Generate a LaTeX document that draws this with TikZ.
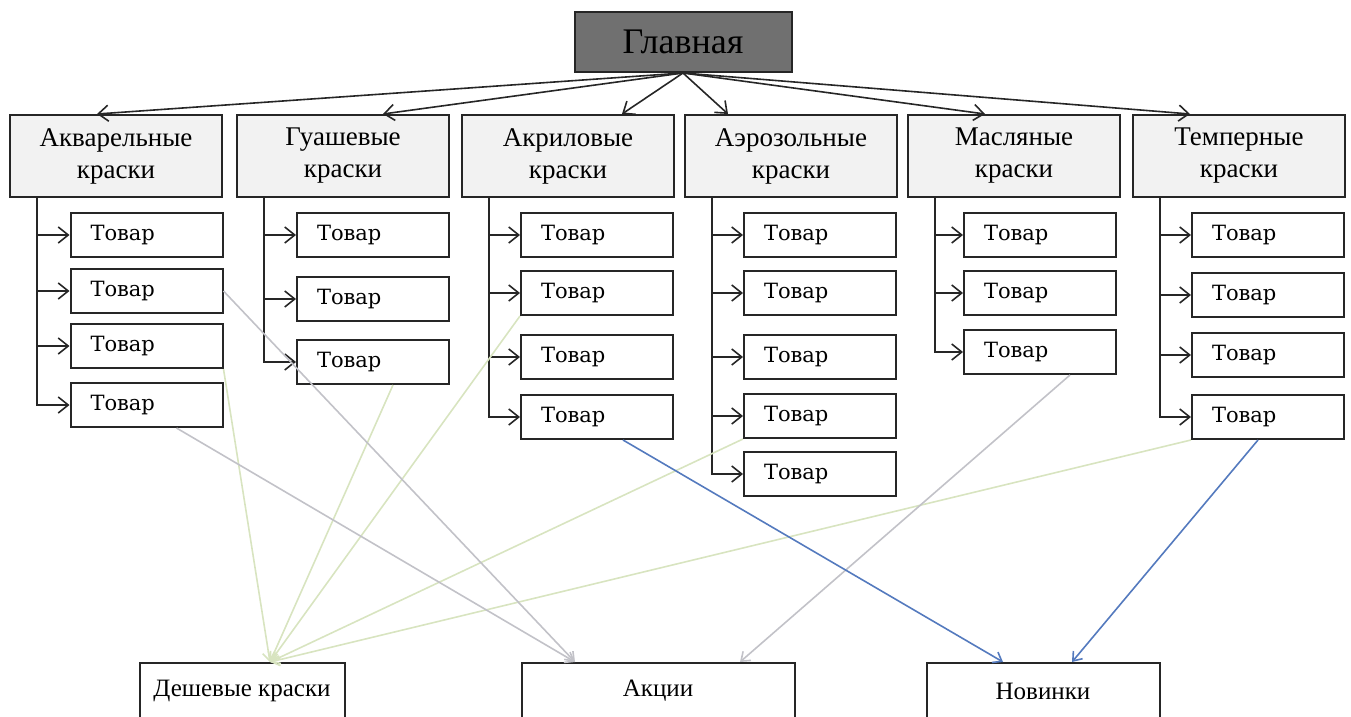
\documentclass[tikz,border=0pt]{standalone}
\usepackage{fontspec}
\setmainfont{Liberation Serif}
\newfontfamily\itemfont{DejaVu Serif}
\usepackage{xcolor}
\usepackage{tikz}
\usetikzlibrary{calc,arrows.meta}
\definecolor{boxgray}{RGB}{242,242,242}
\definecolor{maingray}{RGB}{112,112,112}
\definecolor{linegreen}{RGB}{216,228,192}
\definecolor{linegray}{RGB}{194,194,200}
\definecolor{lineblue}{RGB}{84,122,190}

\begin{document}
\begin{tikzpicture}[x=0.5pt,y=-0.5pt,
  mainbox/.style={draw=black!85, line width=1pt, fill=maingray, minimum width=108.5pt, minimum height=30pt, font=\fontsize{18}{20}\selectfont},
  catbox/.style={draw=black!85, line width=1pt, fill=boxgray, minimum width=106pt, minimum height=41pt, align=center, font=\fontsize{13.5}{16}\selectfont},
  itembox/.style={draw=black!85, line width=1pt, fill=white, minimum height=22pt, text width=56pt, inner xsep=10pt, align=left, font=\itemfont\fontsize{10.5}{12}\selectfont},
  endbox/.style={draw=black!85, line width=1pt, fill=white, minimum height=28pt, font=\fontsize{12.5}{15}\selectfont},
  linkarrow/.style={-{Straight Barb[length=5pt,width=8pt]}, line width=0.8pt, black!85},
  softarrow/.style={-{Straight Barb[length=4pt,width=6pt]}, line width=0.8pt}]
\useasboundingbox (0,0) rectangle (1351,717);

% Top node
\node[mainbox] (main) at (683,42) {Главная};

% Categories
\foreach \i/\x/\name in {1/116/{Акварельные\\краски}, 2/343/{Гуашевые\\краски},
                         3/568/{Акриловые\\краски}, 4/791/{Аэрозольные\\краски},
                         5/1014/{Масляные\\краски}, 6/1239/{Темперные\\краски}} {
    \node[catbox] (c\i) at (\x,156) {\name};
}
\foreach \i/\dx in {1/-9.5, 2/20, 3/27, 4/-31.5, 5/-14.5, 6/-24.5} {
    \draw[linkarrow] (main.south) -- ([xshift=\dx pt]c\i.north);
}

% Goods under each category
\foreach \i/\x/\ys in {1/146.5/{235,291,346,405}, 2/373/{235,299,362},
                       3/597/{235,293,357,417}, 4/820/{235,293,357,416,474},
                       5/1040/{235,293,352}, 6/1268/{235,295,355,417}} {
    \foreach \y [count=\j] in \ys {
        \node[itembox] (t\i-\j) at (\x,\y) {Товар};
        \draw[linkarrow] ($(c\i.south west)+(28,0)$) |- (t\i-\j);
    }
}

% Bottom pages
\node[endbox, minimum width=102.5pt] (cheap) at (242,691) {Дешевые краски};
\node[endbox, minimum width=136.5pt] (sale) at (658,691) {Акции};
\node[endbox, minimum width=116.5pt] (new) at (1043,691) {Новинки};

% Links to cheap paints (green)
\draw[softarrow, linegreen] (t1-3.south east) -- ([xshift=14pt]cheap.north);
\draw[softarrow, linegreen] ([xshift=10pt]t2-3.south) -- ([xshift=14pt]cheap.north);
\draw[softarrow, linegreen] (t3-2.south west) -- ([xshift=14pt]cheap.north);
\draw[softarrow, linegreen] (t4-4.south west) -- ([xshift=14pt]cheap.north);
\draw[softarrow, linegreen] (t6-4.south west) -- ([xshift=14pt]cheap.north);

% Links to sales (gray)
\draw[softarrow, linegray] (t1-2.east) -- ([xshift=-41.5pt]sale.north);
\draw[softarrow, linegray] ([xshift=15pt]t1-4.south) -- ([xshift=-41.5pt]sale.north);
\draw[softarrow, linegray] ([xshift=15pt]t5-3.south) -- ([xshift=41pt]sale.north);

% Links to new items (blue)
\draw[softarrow, lineblue] ([xshift=13pt]t3-4.south) -- ([xshift=-20pt]new.north);
\draw[softarrow, lineblue] ([xshift=-5pt]t6-4.south) -- ([xshift=14.5pt]new.north);
\end{tikzpicture}
\end{document}
